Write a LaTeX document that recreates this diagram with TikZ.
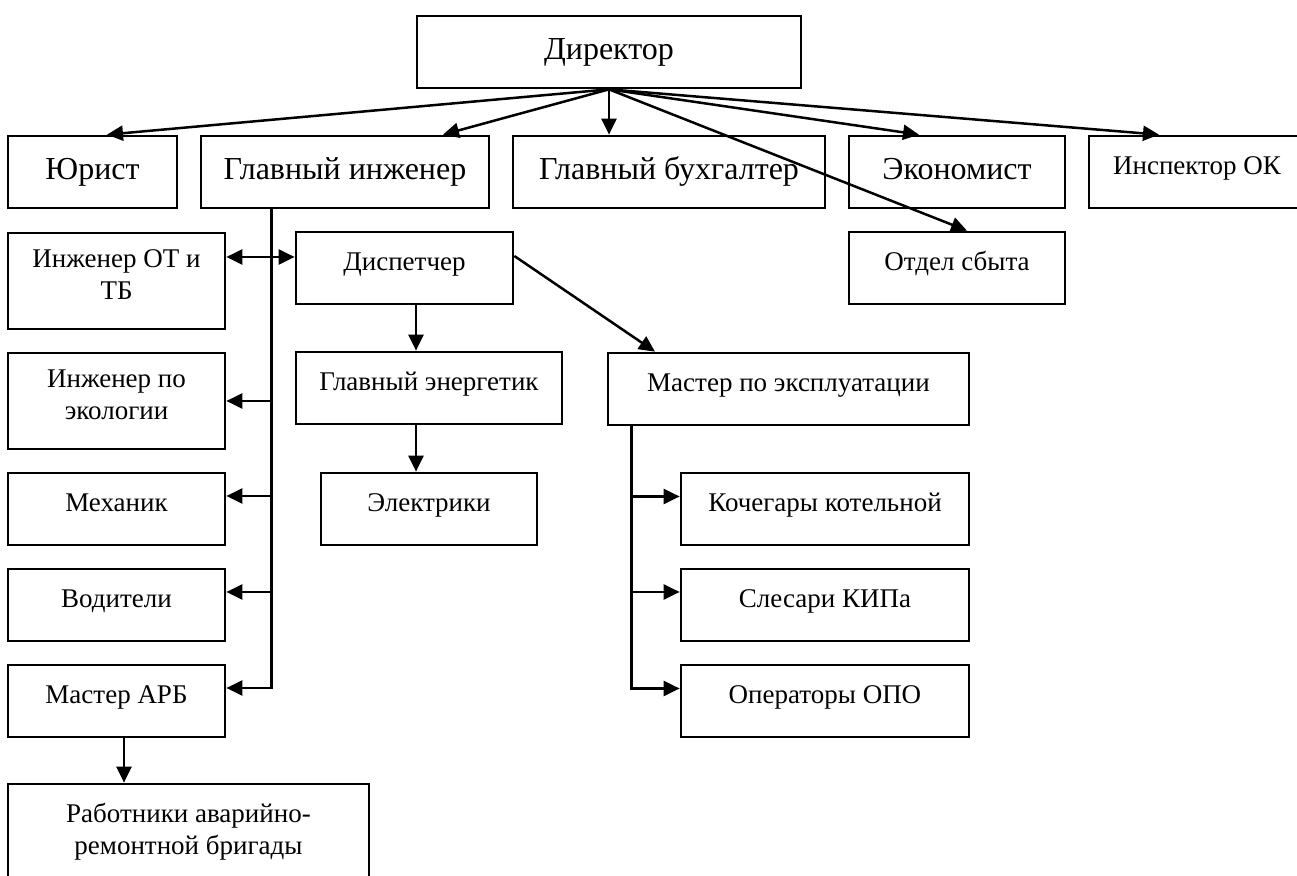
\documentclass[tikz,border=0pt]{standalone}
\usepackage{fontspec}
\setmainfont{Liberation Serif}
\usetikzlibrary{arrows.meta}

\newcommand\boxtext[2][4pt]{\raisebox{0pt}[\height][\dimexpr\depth+#1\relax]{\begin{tabular}{@{}c@{}}#2\end{tabular}}}

\begin{document}
\begin{tikzpicture}[x=0.5pt,y=-0.5pt,>={Triangle[length=8pt,width=7.5pt]},
  unit/.style={draw,line width=1.35pt,inner sep=0pt,font=\fontsize{13.5}{15.8}\selectfont},
  bigunit/.style={unit,font=\fontsize{16}{19}\selectfont},
  wh/.style 2 args={minimum width=#1*0.5pt,minimum height=#2*0.5pt},
  link/.style={line width=1.25pt}]
\useasboundingbox (0,0) rectangle (1297,876);
\clip (0,0) rectangle (1297,876);

% top levels
\node[bigunit,wh={384}{72}] (dir) at (609,52) {\boxtext[0pt]{Директор}};
\node[bigunit,wh={169}{72}] (jur) at (92.5,172) {\boxtext[0pt]{Юрист}};
\node[bigunit,wh={288}{72}] (gi) at (345,172) {\boxtext[0pt]{Главный инженер}};
\node[bigunit,wh={312}{72}] (gb) at (669,172) {\boxtext[0pt]{Главный бухгалтер}};
\node[bigunit,wh={216}{72}] (econ) at (957,172) {\boxtext[0pt]{Экономист}};
\node[unit,wh={216}{72}] (insp) at (1197,172) {\boxtext{Инспектор ОК}};
\node[unit,wh={216}{72}] (sales) at (957,268) {\boxtext{Отдел сбыта}};

% chief engineer's staff
\node[unit,wh={217}{96}] (ot) at (116.5,281) {\boxtext{Инженер ОТ и\\ТБ}};
\node[unit,wh={217}{72}] (disp) at (404.5,268) {\boxtext{Диспетчер}};
\node[unit,wh={217}{96}] (eco) at (116.5,401) {\boxtext{Инженер по\\экологии}};
\node[unit,wh={217}{72}] (mech) at (116.5,509) {\boxtext{Механик}};
\node[unit,wh={217}{72}] (driv) at (116.5,605) {\boxtext{Водители}};
\node[unit,wh={217}{72}] (marb) at (116.5,701) {\boxtext{Мастер АРБ}};
\node[unit,wh={361}{96}] (arb) at (188.5,832) {\boxtext[0pt]{Работники аварийно-\\ремонтной бригады}};
\node[unit,wh={266}{72}] (ge) at (429,388) {\boxtext{Главный энергетик}};
\node[unit,wh={216}{72}] (elec) at (429,509) {\boxtext{Электрики}};
\node[unit,wh={361}{72}] (mexp) at (788.5,389) {\boxtext{Мастер по эксплуатации}};
\node[unit,wh={288}{72}] (stok) at (825,509) {\boxtext{Кочегары котельной}};
\node[unit,wh={288}{72}] (kip) at (825,605) {\boxtext{Слесари КИПа}};
\node[unit,wh={288}{72}] (opo) at (825,701) {\boxtext{Операторы ОПО}};

% director
\draw[link,->] (dir.south) -- ([xshift=7.25pt]jur.north);
\draw[link,->] (dir.south) -- ([xshift=49pt]gi.north);
\draw[link,->] (dir.south) -- (dir.south |- gb.north);
\draw[link,->] (dir.south) -- ([xshift=-19pt]econ.north);
\draw[link,->] (dir.south) -- ([xshift=-19pt]insp.north);
\draw[link,->] (dir.south) -- ([xshift=5pt]sales.north);

% chief engineer spine
\coordinate (gtop) at ([xshift=36pt]gi.south west);
\coordinate (otin) at ([yshift=12pt]ot.east);
\coordinate (mechin) at ([yshift=6.5pt]mech.east);
\coordinate (drivin) at ([yshift=6.5pt]driv.east);
\coordinate (marbin) at ([yshift=6.5pt]marb.east);
\draw[link,->] (gtop) -- (gtop |- marbin) -- (marbin);
\draw[link,<->] (otin) -- (otin -| disp.west);
\draw[link,->] (gtop |- eco.east) -- (eco.east);
\draw[link,->] (gtop |- mechin) -- (mechin);
\draw[link,->] (gtop |- drivin) -- (drivin);
\coordinate (atop) at ([xshift=3.75pt]marb.south);
\draw[link,->] (atop) -- (atop |- arb.north);

% dispatcher
\coordinate (dtop) at ([xshift=5.75pt]disp.south);
\draw[link,->] (dtop) -- (dtop |- ge.north);
\draw[link,->] (dtop |- ge.south) -- (dtop |- elec.north);
\draw[link,->] ([yshift=6pt]disp.east) -- ([xshift=-66.75pt]mexp.north);

% operations master spine
\coordinate (mtop) at ([xshift=12.5pt]mexp.south west);
\coordinate (stokin) at ([yshift=6.25pt]stok.west);
\coordinate (kipin) at ([yshift=6.5pt]kip.west);
\coordinate (opoin) at ([yshift=6.25pt]opo.west);
\draw[link,->] (mtop) -- (mtop |- opoin) -- (opoin);
\draw[link,->] (mtop |- stokin) -- (stokin);
\draw[link,->] (mtop |- kipin) -- (kipin);
\end{tikzpicture}
\end{document}
